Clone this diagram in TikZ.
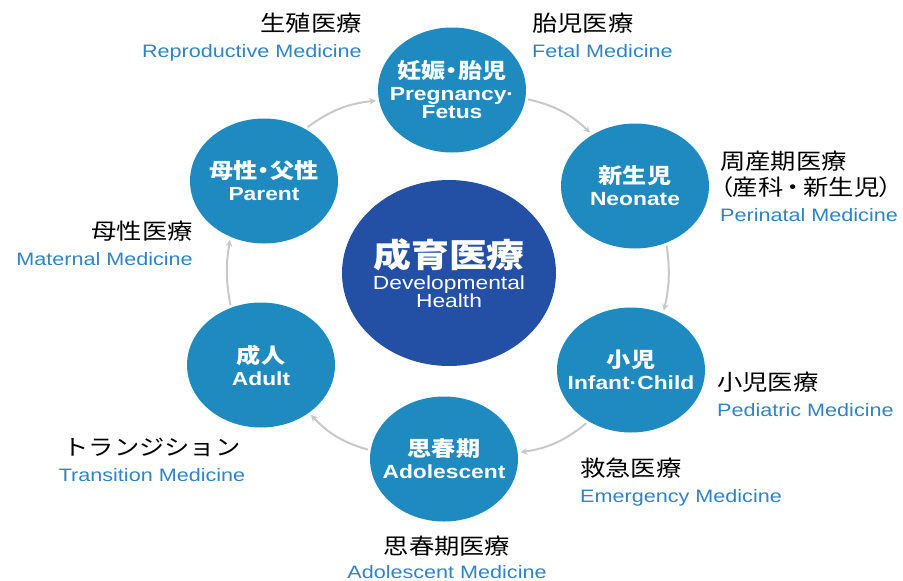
\documentclass[tikz,border=0pt]{standalone}
\usepackage{fontspec}
\setmainfont{Liberation Sans}[FakeStretch=1.2]
\newfontfamily\jp{Noto Sans CJK JP}[FakeStretch=1.15]
\usetikzlibrary{arrows}
\usetikzlibrary{shapes}
\definecolor{stageblue}{RGB}{31,138,192}
\definecolor{hubblue}{RGB}{35,80,164}
\definecolor{textblue}{RGB}{50,130,196}
\definecolor{flowgray}{RGB}{200,200,200}
\newcommand{\jpname}[1]{{\jp\fontsize{22}{26}\selectfont #1}}
\newcommand{\jpstage}[1]{{\jp\bfseries\fontsize{21}{21}\selectfont\addfontfeature{RawFeature=+palt}#1}}
\newcommand{\narrow}[1]{{\addfontfeature{RawFeature=+palt}#1}}

\begin{document}
\begin{tikzpicture}[>=stealth,x=1pt,y=1pt,
  stage/.style={ellipse,fill=stageblue,text=white,inner sep=-20pt,outer sep=3pt,
    minimum width=148pt,minimum height=125pt,align=center,
    font=\bfseries\fontsize{19}{18}\selectfont},
  hub/.style={ellipse,fill=hubblue,text=white,inner sep=-20pt,
    minimum width=214pt,minimum height=186pt,align=center,
    font=\fontsize{19}{18}\selectfont},
  field/.style={inner sep=0pt,font=\fontsize{18}{26}\selectfont},
  flow/.style={->,flowgray,line width=2pt}]

  \useasboundingbox (0,0) rectangle (903,-581);

  \node [hub] (hub) at (449,-273) {{\jp\bfseries\fontsize{33}{33}\selectfont 成育医療}\\[4pt] Developmental\\ Health};

  \node [stage] (preg) at (452,-90) {\jpstage{妊娠・胎児}\\[4pt] Pregnancy·\\ Fetus};
  \node [stage] (neo) at (635,-186) {\jpstage{新生児}\\[4pt] Neonate};
  \node [stage] (infant) at (631,-370) {\jpstage{小児}\\[4pt] Infant·Child};
  \node [stage] (adol) at (444,-459) {\jpstage{思春期}\\[4pt] Adolescent};
  \node [stage] (adult) at (261,-365) {\jpstage{成人}\\[4pt] Adult};
  \node [stage] (parent) at (264,-181) {\jpstage{母性・父性}\\[4pt] Parent};

  \draw [flow] (parent.51) to[bend left=15] (preg.188);
  \draw [flow] (preg.353) to[bend left=15] (neo.130);
  \draw [flow] (neo.298) to[bend left=10] (infant.61);
  \draw [flow] (infant.230) to[bend left=15] (adol.5);
  \draw [flow] (adol.173) to[bend left=15] (adult.315);
  \draw [flow] (adult.117) to[bend left=10] (parent.240);

  \node [field,anchor=north east,align=right] (repro) at (362,-13) {\jpname{生殖医療}\\ \color{textblue}Reproductive Medicine};
  \node [field,anchor=north west,align=left] (fetal) at (532,-13) {\jpname{胎児医療}\\ \color{textblue}Fetal Medicine};
  \node [field,anchor=north west,align=left] (peri) at (720,-151) {\jpname{周産期医療}\\ \jpname{\narrow{（産科\,・\,新生児）}}\\ \color{textblue}Perinatal Medicine};
  \node [field,anchor=north east,align=right] (maternal) at (193,-221) {\jpname{母性医療}\\ \color{textblue}Maternal Medicine};
  \node [field,anchor=north west,align=left] (pedia) at (717,-372) {\jpname{小児医療}\\ \color{textblue}Pediatric Medicine};
  \node [field,anchor=north,align=center] (trans) at (152,-438) {\jpname{トランジション}\\ \color{textblue}Transition Medicine};
  \node [field,anchor=north west,align=left] (emerg) at (580,-458) {\jpname{救急医療}\\ \color{textblue}Emergency Medicine};
  \node [field,anchor=north,align=center] (adolmed) at (447,-536) {\jpname{思春期医療}\\[-2pt] \color{textblue}Adolescent Medicine};

\end{tikzpicture}
\end{document}
